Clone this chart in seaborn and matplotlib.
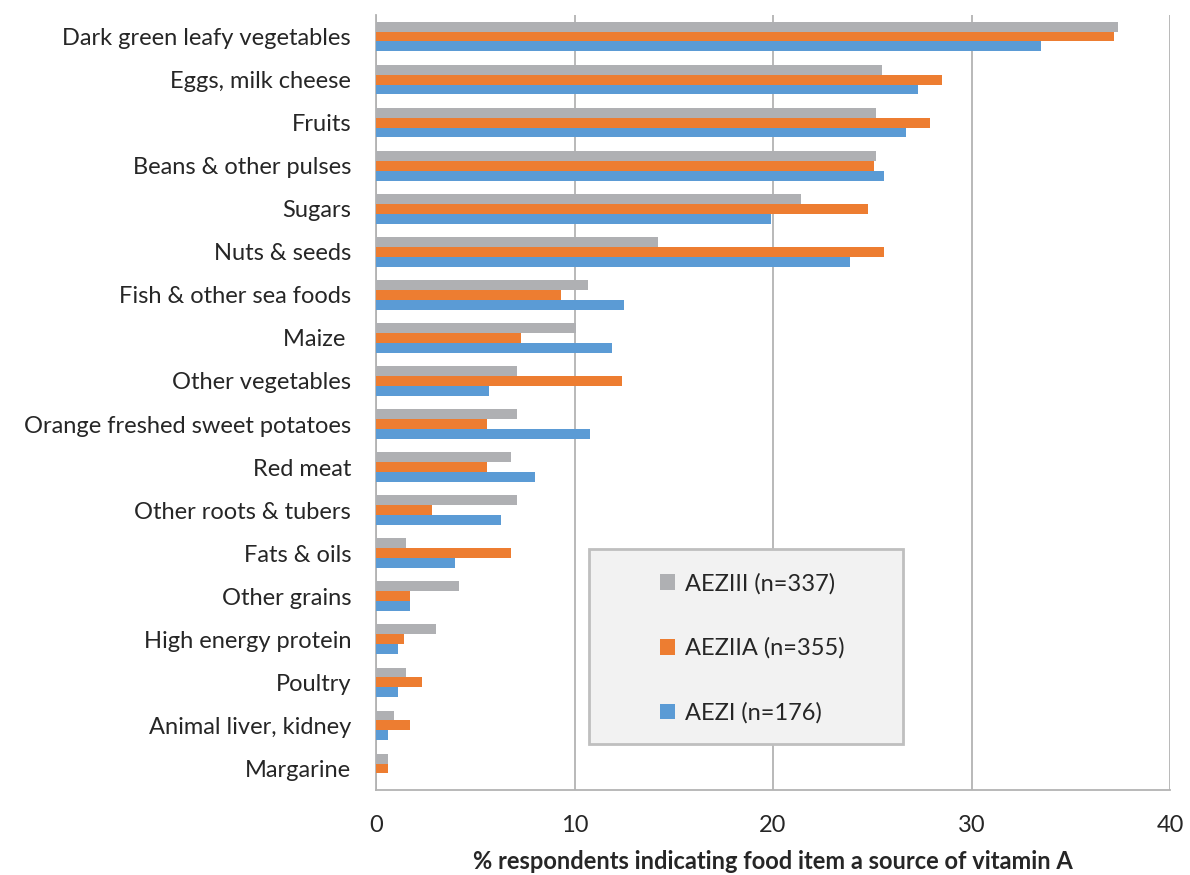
import matplotlib
matplotlib.use("Agg")
import matplotlib.pyplot as plt
from matplotlib.patches import Rectangle, Patch
import pandas as pd
import seaborn as sns

food_items = [
    "Dark green leafy vegetables",
    "Eggs, milk cheese",
    "Fruits",
    "Beans & other pulses",
    "Sugars",
    "Nuts & seeds",
    "Fish & other sea foods",
    "Maize ",
    "Other vegetables",
    "Orange freshed sweet potatoes",
    "Red meat",
    "Other roots & tubers",
    "Fats & oils",
    "Other grains",
    "High energy protein",
    "Poultry",
    "Animal liver, kidney",
    "Margarine",
]

zones = ["AEZIII (n=337)", "AEZIIA (n=355)", "AEZI (n=176)"]

aeziii = [37.4, 25.5, 25.2, 25.2, 21.4, 14.2, 10.7, 10.1, 7.1, 7.1, 6.8, 7.1, 1.5, 4.2, 3.0, 1.5, 0.9, 0.6]
aeziia = [37.2, 28.5, 27.9, 25.1, 24.8, 25.6, 9.3, 7.3, 12.4, 5.6, 5.6, 2.8, 6.8, 1.7, 1.4, 2.3, 1.7, 0.6]
aezi = [33.5, 27.3, 26.7, 25.6, 19.9, 23.9, 12.5, 11.9, 5.7, 10.8, 8.0, 6.3, 4.0, 1.7, 1.1, 1.1, 0.6, 0.0]

colors = ["#AFB0B3", "#ED7D31", "#5B9BD5"]

df = pd.DataFrame({
    "item": food_items * 3,
    "zone": [zones[0]] * len(food_items) + [zones[1]] * len(food_items) + [zones[2]] * len(food_items),
    "pct": aeziii + aeziia + aezi,
})

sns.set_theme(style="white")
plt.rcParams["font.family"] = ["Lato", "DejaVu Sans"]
text_color = "#262626"
grid_color = "#B3B3B3"
fs = 17

fig = plt.figure(figsize=(11.9, 8.75), dpi=100)
ax = fig.add_axes([376 / 1190, 1 - 790 / 875, 794 / 1190, 775 / 875])

sns.barplot(
    data=df, y="item", x="pct", hue="zone", order=food_items, hue_order=zones,
    palette=colors, saturation=1, orient="h", width=0.69, dodge=True, ax=ax,
    linewidth=0, legend=False, zorder=3,
)

ax.set_xlim(0, 40)
ax.set_ylim(len(food_items) - 0.5, -0.5)
ax.set_xticks([0, 10, 20, 30, 40])
ax.xaxis.grid(True, color=grid_color, linewidth=1.3, zorder=0)
ax.set_axisbelow(True)

for side in ["top", "right"]:
    ax.spines[side].set_visible(False)
for side in ["left", "bottom"]:
    ax.spines[side].set_color(grid_color)
    ax.spines[side].set_linewidth(1.3)

# tick marks sit between categories, labels at category centres
ax.set_yticks([i - 0.5 for i in range(len(food_items) + 1)], minor=True)
ax.tick_params(axis="y", which="major", length=0, pad=18, labelsize=fs, labelcolor=text_color)
ax.tick_params(axis="y", which="minor", length=6, width=1.3, color=grid_color, direction="out")
ax.tick_params(axis="x", which="major", length=6, width=1.3, color=grid_color, direction="out",
               pad=12, labelsize=fs, labelcolor=text_color)

ax.set_ylabel("")
ax.set_xlabel("% respondents indicating food item a source of vitamin A",
              fontsize=fs, fontweight="bold", color=text_color, labelpad=10)

# legend panel
box = Rectangle(((589 - 376) / 794, (790 - 744) / 775), 314 / 794, 195 / 775,
                transform=ax.transAxes, facecolor="#F2F2F2",
                edgecolor="#BFBFBF", linewidth=2, zorder=5)
ax.add_patch(box)
handles = [Patch(facecolor=c, edgecolor="none") for c in colors]
leg = ax.legend(handles, zones, loc="upper left", bbox_to_anchor=(648 / 1190, 1 - 561 / 875),
                bbox_transform=fig.transFigure, frameon=False, fontsize=fs,
                labelspacing=1.83, handlelength=0.65, handleheight=0.65, handletextpad=0.4,
                borderpad=0, labelcolor=text_color)
leg.set_zorder(6)

fig.savefig("out.png", dpi=100)
